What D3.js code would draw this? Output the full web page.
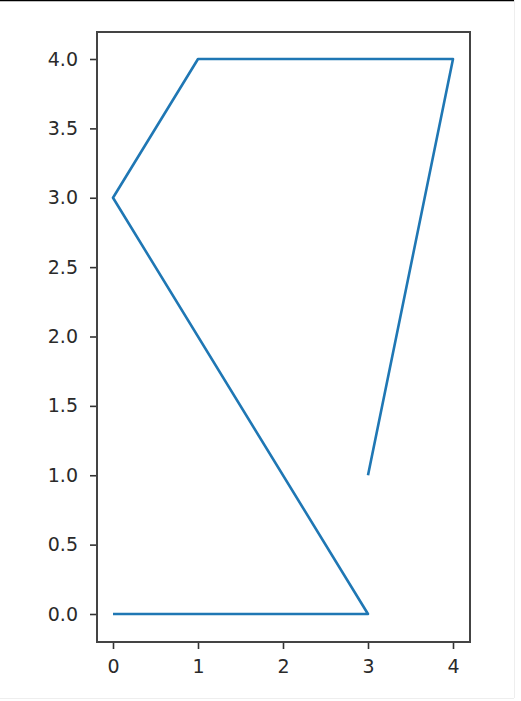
<!DOCTYPE html>
<html>
<head>
<meta charset="utf-8">
<script src="https://cdn.jsdelivr.net/npm/d3@7"></script>
<style>
body { margin: 0; background: #fff; }
svg { display: block; }
</style>
</head>
<body>
<script>
// data
var xs = [0, 3, 0, 1, 4, 3];
var ys = [0, 0, 3, 4, 4, 1];
var xTicks = [0, 1, 2, 3, 4];
var yTicks = [0, 0.5, 1, 1.5, 2, 2.5, 3, 3.5, 4];

var width = 521, height = 701;
// axes box edges in pixels
var boxLeft = 97, boxTop = 32, boxRight = 470, boxBottom = 642;

var svg = d3.select("body").append("svg")
	.attr("width", width)
	.attr("height", height);

// page border bits
svg.append("line").attr("x1", 0).attr("x2", 514).attr("y1", 0.5).attr("y2", 0.5)
	.attr("stroke", "#000").attr("stroke-width", 1.5);
svg.append("line").attr("x1", 514.5).attr("x2", 514.5).attr("y1", 0).attr("y2", 698)
	.attr("stroke", "#eee").attr("stroke-width", 1);
svg.append("line").attr("x1", 0).attr("x2", 514).attr("y1", 698.5).attr("y2", 698.5)
	.attr("stroke", "#eee").attr("stroke-width", 1);

// scales: x 0 -> 113, 4 -> 453 ; y 0 -> 614, 4 -> 59
var x = d3.scaleLinear().domain([0, 4]).range([113, 453]);
var y = d3.scaleLinear().domain([0, 4]).range([614, 59]);
x.domain([x.invert(boxLeft), x.invert(boxRight)]).range([boxLeft, boxRight]);
y.domain([y.invert(boxBottom), y.invert(boxTop)]).range([boxBottom, boxTop]);

var xAxis = svg.append("g")
	.attr("transform", "translate(0," + boxBottom + ")")
	.call(d3.axisBottom(x).tickValues(xTicks).tickSize(7).tickPadding(11).tickFormat(d3.format("d")));
var yAxis = svg.append("g")
	.attr("transform", "translate(" + boxLeft + ",0)")
	.call(d3.axisLeft(y).tickValues(yTicks).tickSize(7).tickPadding(12).tickFormat(d3.format(".1f")));

[xAxis, yAxis].forEach(function(a) {
	a.select(".domain").remove();
	a.selectAll("line").attr("stroke", "#333").attr("stroke-width", 1.6);
	a.selectAll("text").attr("fill", "#2a2a2a")
		.style("font-family", "DejaVu Sans").style("font-size", "19px");
});

// line
var line = d3.line()
	.x(function(d, i) { return x(xs[i]); })
	.y(function(d, i) { return y(ys[i]); });

svg.append("path")
	.datum(xs)
	.attr("d", line)
	.attr("fill", "none")
	.attr("stroke", "#1f77b4")
	.attr("stroke-width", 2.6)
	.attr("stroke-linejoin", "round");

// frame
svg.append("rect")
	.attr("x", boxLeft).attr("y", boxTop)
	.attr("width", boxRight - boxLeft).attr("height", boxBottom - boxTop)
	.attr("fill", "none")
	.attr("stroke", "#444")
	.attr("stroke-width", 2);
</script>
</body>
</html>
